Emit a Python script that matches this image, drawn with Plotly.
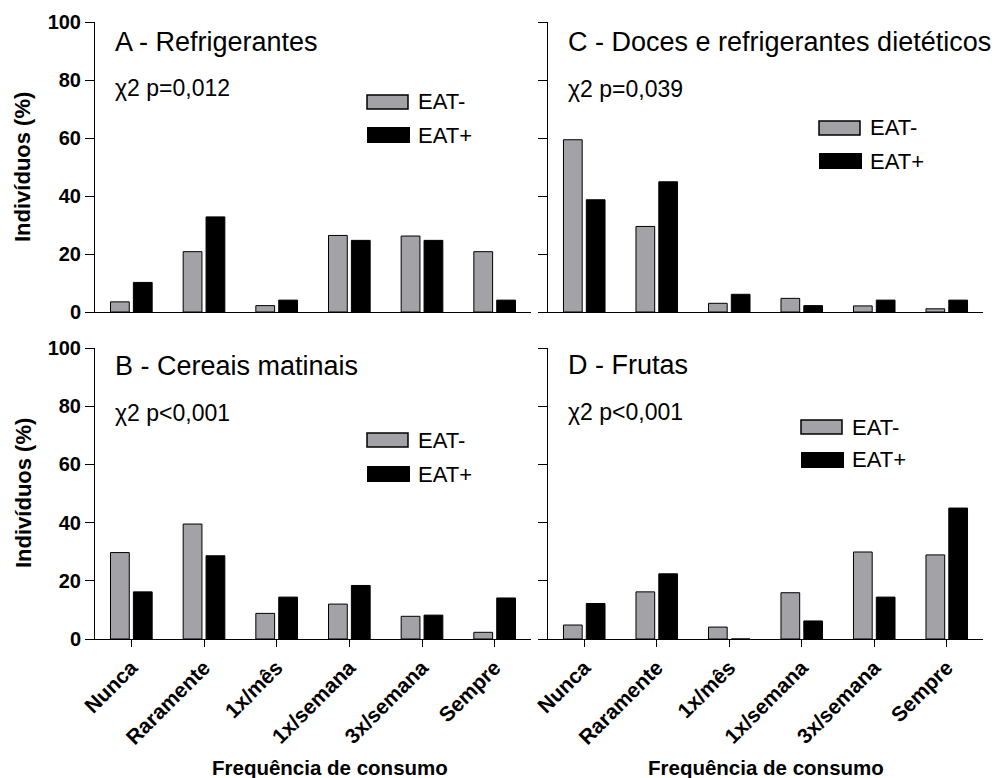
import plotly.graph_objects as go
from plotly.subplots import make_subplots

categorias = ["Nunca", "Raramente", "1x/mês", "1x/semana", "3x/semana", "Sempre"]

a_eat_neg = [3.5, 20.8, 2.2, 26.4, 26.2, 20.8]
a_eat_pos = [10.2, 32.8, 4.1, 24.7, 24.7, 4.1]

c_eat_neg = [59.4, 29.5, 3.0, 4.7, 2.1, 1.1]
c_eat_pos = [38.7, 44.9, 6.1, 2.2, 4.1, 4.1]

b_eat_neg = [29.7, 39.5, 8.8, 12.0, 7.8, 2.3]
b_eat_pos = [16.2, 28.6, 14.4, 18.4, 8.2, 14.1]

d_eat_neg = [4.8, 16.2, 4.1, 15.9, 29.9, 28.9]
d_eat_pos = [12.2, 22.4, 0.0, 6.2, 14.4, 45.0]

paineis = [
    ("A - Refrigerantes", "χ2 p=0,012", a_eat_neg, a_eat_pos),
    ("C - Doces e refrigerantes dietéticos", "χ2 p=0,039", c_eat_neg, c_eat_pos),
    ("B - Cereais matinais", "χ2 p<0,001", b_eat_neg, b_eat_pos),
    ("D - Frutas", "χ2 p<0,001", d_eat_neg, d_eat_pos),
]

W, H = 1000, 778
FONT = "Arial, Liberation Sans, sans-serif"
GRAY = "#a2a2a7"


def px(x):
    return x / W


def py(y):
    return 1 - y / H


# pixel geometry of each panel: (x0, x1, ytop, ybottom)
geo = [
    (95, 531, 22, 312),
    (548, 983, 22, 312),
    (95, 531, 348, 639),
    (548, 983, 348, 639),
]
legend_geo = [
    (367, 102, 135),
    (819, 128, 161),
    (367, 440, 474),
    (801, 427, 460),
]
text_geo = [
    (113, 42, 88),
    (566, 42, 89),
    (113, 366, 413),
    (566, 365, 412),
]

fig = make_subplots(rows=2, cols=2)
pos = [(1, 1), (1, 2), (2, 1), (2, 2)]

shapes = []
annotations = []
for i, ((titulo, chi, neg, posv), (r, c)) in enumerate(zip(paineis, pos)):
    fig.add_trace(go.Bar(x=categorias, y=neg, name="EAT-", marker=dict(color=GRAY, line=dict(color="black", width=1)),
                         showlegend=False), row=r, col=c)
    fig.add_trace(go.Bar(x=categorias, y=posv, name="EAT+", marker=dict(color="black", line=dict(color="black", width=1)),
                         showlegend=False), row=r, col=c)
    x0, x1, yt, yb = geo[i]
    bottom = r == 2
    left = c == 1
    fig.update_xaxes(domain=[px(x0), px(x1)], range=[-0.5, 5.5], showline=True, linecolor="black", linewidth=1,
                     ticks="outside" if bottom else "", ticklen=7, tickcolor="black", tickwidth=1,
                     showticklabels=bottom, tickangle=-45, automargin=False,
                     tickfont=dict(family=FONT, size=21, color="black", weight="bold"),
                     showgrid=False, zeroline=False, row=r, col=c)
    fig.update_yaxes(domain=[py(yb), py(yt)], range=[0, 100], tickvals=[0, 20, 40, 60, 80, 100],
                     showline=True, linecolor="black", linewidth=1, ticks="outside", ticklen=9,
                     tickcolor="black", tickwidth=1, showticklabels=left, automargin=False,
                     tickfont=dict(family=FONT, size=20, color="black", weight="bold"),
                     showgrid=False, zeroline=False, row=r, col=c)

    lx, ly1, ly2 = legend_geo[i]
    shapes.append(dict(type="rect", xref="paper", yref="paper", x0=px(lx), x1=px(lx + 41),
                       y0=py(ly1 + 7), y1=py(ly1 - 7), fillcolor=GRAY, line=dict(color="black", width=1.5)))
    shapes.append(dict(type="rect", xref="paper", yref="paper", x0=px(lx), x1=px(lx + 43),
                       y0=py(ly2 + 8), y1=py(ly2 - 8), fillcolor="black", line=dict(color="black", width=0)))
    annotations.append(dict(text="EAT-", x=px(lx + 49), y=py(ly1), xref="paper", yref="paper",
                            xanchor="left", yanchor="middle", showarrow=False,
                            font=dict(family=FONT, size=22, color="black")))
    annotations.append(dict(text="EAT+", x=px(lx + 49), y=py(ly2), xref="paper", yref="paper",
                            xanchor="left", yanchor="middle", showarrow=False,
                            font=dict(family=FONT, size=22, color="black")))
    tx, ty1, ty2 = text_geo[i]
    annotations.append(dict(text=titulo, x=px(tx), y=py(ty1), xref="paper", yref="paper",
                            xanchor="left", yanchor="middle", showarrow=False,
                            font=dict(family=FONT, size=27, color="black")))
    annotations.append(dict(text=chi, x=px(tx), y=py(ty2), xref="paper", yref="paper",
                            xanchor="left", yanchor="middle", showarrow=False,
                            font=dict(family=FONT, size=23, color="black")))

for yc in [167, 493]:
    annotations.append(dict(text="Indivíduos (%)", x=px(23), y=py(yc), xref="paper", yref="paper",
                            xanchor="center", yanchor="middle", textangle=-90, showarrow=False,
                            font=dict(family=FONT, size=22, color="black", weight="bold")))
for xc in [330, 766]:
    annotations.append(dict(text="Frequência de consumo", x=px(xc), y=py(767), xref="paper", yref="paper",
                            xanchor="center", yanchor="middle", showarrow=False,
                            font=dict(family=FONT, size=20.5, color="black", weight="bold")))

fig.update_layout(width=W, height=H, margin=dict(l=0, r=0, t=0, b=0, autoexpand=False), paper_bgcolor="white",
                  plot_bgcolor="white", barmode="group", bargap=0.37, bargroupgap=0.18,
                  shapes=shapes, annotations=annotations, showlegend=False)

fig.write_html("out.html", config={"displayModeBar": False},
               post_script="document.body.style.margin='0';document.body.style.overflow='hidden';")
